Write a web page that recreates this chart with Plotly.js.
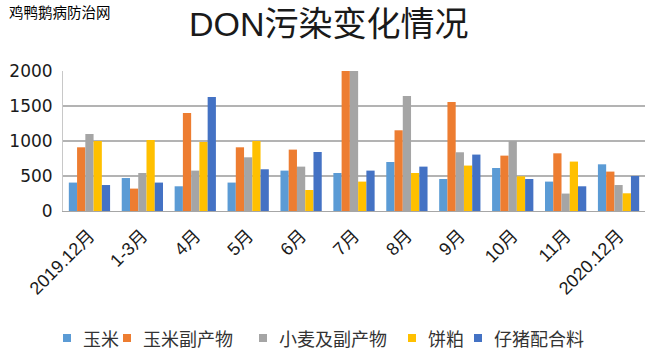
<!DOCTYPE html>
<html>
<head>
<meta charset="utf-8">
<script src="https://cdn.plot.ly/plotly-3.0.1.min.js"></script>
<style>html,body{margin:0;padding:0;background:#fff;}#chart{width:651px;height:353px;}</style>
</head>
<body>
<div id="chart"></div>
<script>
var categories = ["2019.12月","1-3月","4月","5月","6月","7月","8月","9月","10月","11月","2020.12月"];
var seriesNames = ["玉米","玉米副产物","小麦及副产物","饼粕","仔猪配合料"];
var corn        = [406, 471, 353, 406, 577, 543, 700, 457, 614, 420, 667];
var cornBy      = [910, 320, 1400, 910, 877, 2000, 1153, 1557, 791, 824, 563];
var wheatBy     = [1100, 543, 577, 767, 634, 2000, 1643, 839, 1000, 249, 371];
var meal        = [1000, 1014, 986, 1000, 300, 420, 543, 649, 496, 706, 253];
var pigFeed     = [371, 406, 1629, 596, 843, 577, 634, 806, 457, 353, 500];
var yTicks = [0, 500, 1000, 1500, 2000];

var colors = ["#5B9BD5","#ED7D31","#A5A5A5","#FFC000","#4472C4"];
var allVals = [corn, cornBy, wheatBy, meal, pigFeed];
var data = allVals.map(function(v, i){
  return {type:"bar", name: seriesNames[i], x: categories, y: v,
          marker:{color: colors[i]}, hoverinfo:"y", showlegend:false};
});

var W = 651, H = 353, ML = 63, MR = 6, MT = 71, MB = 142;
var PW = W - ML - MR, PH = H - MT - MB;
function px(x){ return (x - ML) / PW; }
function py(y){ return (H - MB - y) / PH; }

// legend (drawn as squares + text)
var legendTextX = [82, 142, 278, 427, 493];
var legendY = 338;
var shapes = [], annotations = [];
seriesNames.forEach(function(n, i){
  var tx = legendTextX[i];
  shapes.push({type:"rect", xref:"paper", yref:"paper",
    x0: px(tx - 19), x1: px(tx - 11), y0: py(legendY + 4), y1: py(legendY - 4),
    fillcolor: colors[i], line:{width:0}});
  annotations.push({text:n, xref:"paper", yref:"paper", x: px(tx - 1), y: py(legendY),
    xanchor:"left", yanchor:"middle", showarrow:false,
    font:{size:18, color:"#333", family:"'Noto Sans CJK SC', sans-serif"}});
});
annotations.push({text:"鸡鸭鹅病防治网", xref:"paper", yref:"paper",
    x: px(7), y: py(12), xanchor:"left", yanchor:"middle", showarrow:false,
    font:{size:14.5, color:"#000", family:"'Noto Sans CJK SC', sans-serif"}});

var layout = {
  width:W, height:H,
  margin:{l:ML, r:MR, t:MT, b:MB},
  paper_bgcolor:"#fff", plot_bgcolor:"#fff",
  font:{family:"'Liberation Sans','Noto Sans CJK SC', sans-serif", color:"#333"},
  title:{text:"DON污染变化情况", font:{size:34, color:"#1a1a1a", family:"'Liberation Sans','Noto Sans CJK SC', sans-serif"},
         x:0.505, xanchor:"center", xref:"container", y:1 - 24/H, yref:"container", yanchor:"middle"},
  barmode:"group", bargap:0.22, bargroupgap:0,
  xaxis:{type:"category", tickangle:-45,
         tickfont:{size:18, color:"#1a1a1a", family:"'Liberation Sans','Noto Sans CJK SC', sans-serif"},
         ticklabelstandoff:6,
         showline:true, linecolor:"#a6a6a6", linewidth:1, showgrid:false, ticks:"", automargin:false},
  yaxis:{range:[0,2000], tickvals:yTicks, ticktext:yTicks.map(String),
         tickfont:{size:17, color:"#1a1a1a", family:"'DejaVu Sans', sans-serif"},
         ticklabelstandoff:6,
         showgrid:true, gridcolor:"#b3b3b3", gridwidth:1.5, zeroline:false,
         showline:true, linecolor:"#c8c8c8", linewidth:1, ticks:"", automargin:false},
  showlegend:false,
  shapes: shapes,
  annotations: annotations
};
Plotly.newPlot("chart", data, layout, {displayModeBar:false, staticPlot:true});
</script>
</body>
</html>
